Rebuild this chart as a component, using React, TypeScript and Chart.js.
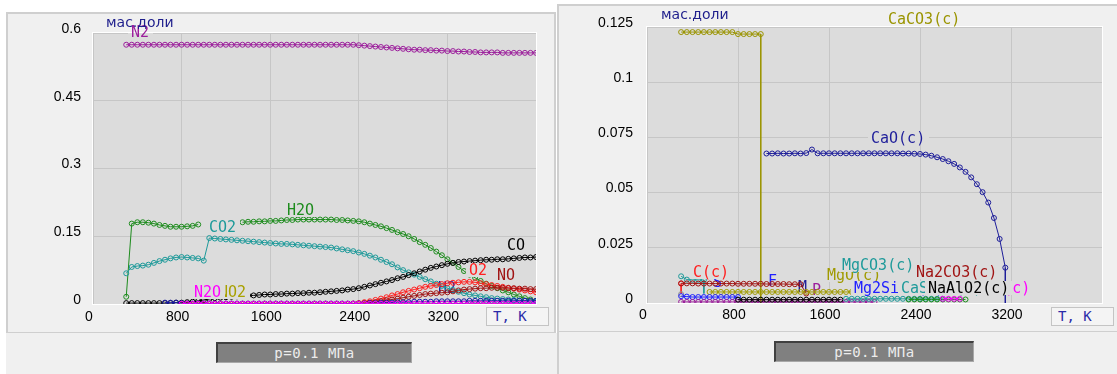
import React, { useEffect, useRef } from 'react';
import { Chart, registerables } from 'chart.js';

Chart.register(...registerables);

// ---------- shared temperature grid (K) ----------
const TEMPS = [300,350,400,450,500,550,600,650,700,750,800,850,900,950,1000,1050,1100,1150,1200,1250,1300,1350,1400,1450,1500,1550,1600,1650,1700,1750,1800,1850,1900,1950,2000,2050,2100,2150,2200,2250,2300,2350,2400,2450,2500,2550,2600,2650,2700,2750,2800,2850,2900,2950,3000,3050,3100,3150,3200,3250,3300,3350,3400,3450,3500,3550,3600,3650,3700,3750,3800,3850,3900,3950,4000];

// ---------- axes ----------
const X_TICKS = [0, 800, 1600, 2400, 3200, 4000];
const X_LABELS = ['0', '800', '1600', '2400', '3200', ''];
const LEFT_Y_TICKS = [0, 0.15, 0.3, 0.45, 0.6];
const LEFT_Y_LABELS = ['0', '0.15', '0.3', '0.45', '0.6'];
const RIGHT_Y_TICKS = [0, 0.025, 0.05, 0.075, 0.1, 0.125];
const RIGHT_Y_LABELS = ['0', '0.025', '0.05', '0.075', '0.1', '0.125'];

// ---------- left panel: gas phase, mass fractions ----------
const N2_START = 300;
const N2 = [0.574,0.574,0.574,0.574,0.574,0.574,0.574,0.574,0.574,0.574,0.574,0.574,0.574,0.574,0.574,0.574,0.574,0.574,0.574,0.574,0.574,0.574,0.574,0.574,0.574,0.574,0.574,0.574,0.574,0.574,0.574,0.574,0.574,0.574,0.574,0.574,0.574,0.574,0.574,0.574,0.574,0.574,
  0.573,0.572,0.571,0.570,0.569,0.568,0.567,0.566,0.565,0.564,0.563,0.563,0.562,0.562,0.561,0.561,0.560,0.560,0.559,0.559,0.558,0.558,0.557,0.557,0.557,0.557,0.556,0.556,0.556,0.556,0.556,0.556,0.556];
const H2O_START = 300;
const H2O = [0.016,0.178,0.181,0.181,0.180,0.178,0.175,0.173,0.171,0.171,0.171,0.172,0.173,0.176,null,null,null,null,null,null,null,0.181,0.182,0.182,0.183,0.183,0.184,0.184,0.185,0.186,0.186,0.187,0.187,0.187,0.187,0.187,0.187,0.187,0.186,0.186,0.185,0.184,0.183,0.181,0.178,0.175,0.172,0.168,0.164,0.159,0.155,0.150,0.144,0.137,0.131,0.124,0.116,0.108,0.099,0.091,0.082,0.073,0.065,0.058,0.051,0.045,0.040,0.035,0.030,0.026,0.021,0.017,0.013,0.010,0.007];
const CO2_START = 300;
const CO2 = [0.068,0.082,0.084,0.085,0.087,0.091,0.095,0.098,0.101,0.103,0.104,0.103,0.102,0.101,0.096,0.146,0.145,0.144,0.143,0.142,0.141,0.140,0.139,0.138,0.137,0.136,0.135,0.134,0.133,0.133,0.132,0.131,0.130,0.129,0.128,0.127,0.126,0.125,0.123,0.121,0.119,0.117,0.114,0.111,0.107,0.103,0.098,0.093,0.088,0.081,0.075,0.070,0.065,0.060,0.055,0.050,0.045,0.040,0.035,0.031,0.027,0.024,0.021,0.019,0.017,0.015,0.013,0.012,0.011,0.010,0.009,0.008,0.007,0.006,0.005];
const CO_START = 300;
const CO = [0.002,0.002,0.002,0.002,0.002,0.002,0.002,0.002,0.002,0.003,0.003,0.004,0.005,0.007,0.009,0.011,0.013,0.014,0.015,0.016,0.017,0.018,0.019,0.019,0.020,0.021,0.021,0.022,0.022,0.023,0.023,0.024,0.024,0.025,0.025,0.026,0.027,0.028,0.029,0.030,0.032,0.033,0.035,0.038,0.041,0.044,0.047,0.050,0.053,0.057,0.060,0.064,0.068,0.072,0.076,0.080,0.083,0.086,0.089,0.091,0.093,0.094,0.095,0.096,0.097,0.098,0.098,0.099,0.099,0.100,0.101,0.102,0.103,0.103,0.104];
const O2_START = 800;
const O2 = [0,0,0,0,0,0,0,0,0,0,0,0,0,0,0,0,0,0,0,0,0,0,0,0,0,0,0,0,0,0,0,
  0.001,0.002,0.004,0.006,0.009,0.012,0.015,0.019,0.022,0.026,0.029,0.032,0.035,0.038,0.040,0.042,0.044,0.046,0.047,0.048,0.049,0.049,0.048,0.046,0.044,0.042,0.040,0.038,0.036,0.034,0.032,0.030,0.028,0.026];
const NO_START = 850;
const NO = [0,0,0,0,0,0,0,0,0,0,0,0,0,0,0,0,0,0,0,0,0,0,0,0,0,0,0,0,0,0,0,
  0.001,0.002,0.003,0.004,0.006,0.008,0.010,0.012,0.014,0.016,0.018,0.020,0.022,0.023,0.024,0.025,0.026,0.028,0.030,0.032,0.033,0.034,0.035,0.035,0.036,0.036,0.036,0.035,0.035,0.034,0.034,0.033,0.033];
const H2_START = 650;
const H2 = [0.003,0.003,0.003,0.002,
  0.001,0.001,0.001,0.001,0.001,0.001,0.001,0.001,0.001,0.001,0.001,0.001,0.001,0.001,0.001,0.001,0.001,0.001,0.001,0.001,0.001,0.001,0.001,0.001,0.001,0.001,0.001,0.001,0.001,0.001,0.001,0.001,0.001,
  0.002,0.002,0.003,0.003,0.003,0.004,0.004,0.004,0.005,0.005,0.005,0.005,0.006,0.006,0.006,0.006,0.006,0.006,0.007,0.007,0.007,0.007,0.007,0.007,0.007,0.007,0.007,0.007,0.007,0.007,0.007];
const N2O_START = 800;
const N2O = [0.0005,0.0005,0.0005,0.0005,0.0005,0.0005,0.0005,0.0005,0.0005,0.0005,0.0005,0.0005,0.0005,0.0005,0.0005,0.0005,0.0005,0.0005,0.0005,0.0005,0.0005,0.0005,0.0005,0.0005,0.0005,0.0005,0.0005,0.0005,0.0005,0.0005,0.0005,0.0005,0.0005,0.0005,0.0005,0.0005,0.0005,0.0005,0.0005,0.0005,0.0005,0.0005,0.0005,0.0005,0.0005,0.0005,0.0005,0.0005,0.0005,0.0005,0.0005,0.0005,0.0005,0.0005,0.0005,0.0005,0.0005,0.0005,0.0005,0.0005,0.0005,0.0005,0.0005,0.0005,0.0005];
const NO2_START = 800;
const NO2 = [0.0003,0.0003,0.0003,0.0003,0.0003,0.0003,0.0003,0.0003,0.0003,0.0003,0.0003,0.0003,0.0003,0.0003,0.0003,0.0003,0.0003,0.0003,0.0003,0.0003,0.0003,0.0003,0.0003,0.0003,0.0003,0.0003,0.0003,0.0003,0.0003,0.0003,0.0003,0.0003,0.0003,0.0003,0.0003,0.0003,0.0003,0.0003,0.0003,0.0003,0.0003,0.0003,0.0003,0.0003,0.0003,0.0003,0.0003,0.0003,0.0003,0.0003,0.0003,0.0003,0.0003,0.0003,0.0003,0.0003,0.0003,0.0003,0.0003,0.0003,0.0003,0.0003,0.0003,0.0003,0.0003];

// ---------- right panel: condensed phase, mass fractions ----------
const CACO3_T = [300,350,400,450,500,550,600,650,700,750,800,850,900,950,1000,1000];
const CACO3 = [0.1227,0.1227,0.1227,0.1227,0.1227,0.1227,0.1227,0.1227,0.1227,0.1227,0.1218,0.1218,0.1218,0.1218,0.1218,0];
const CAO_T = [1050,1100,1150,1200,1250,1300,1350,1400,1450,1500,1550,1600,1650,1700,1750,1800,1850,1900,1950,2000,2050,2100,2150,2200,2250,2300,2350,2400,2450,2500,2550,2600,2650,2700,2750,2800,2850,2900,2950,3000,3050,3100,3150,3150];
const CAO = [0.0677,0.0677,0.0678,0.0677,0.0677,0.0678,0.0677,0.0679,0.0695,0.0678,0.0678,0.0678,0.0678,0.0678,0.0678,0.0678,0.0678,0.0678,0.0678,0.0678,0.0678,0.0678,0.0678,0.0678,0.0677,0.0677,0.0676,0.0675,0.0672,0.0667,0.0660,0.0652,0.0642,0.0630,0.0614,0.0594,0.0569,0.0538,0.0502,0.0455,0.0385,0.0290,0.0160,0];
const CC_T = [300, 300];
const CC = [0.0088, 0.0043];
const NA2CO3_START = 300;
const NA2CO3 = [0.0089,0.0089,0.0089,0.0088,0.0088,0.0088,0.0088,0.0088,0.0088,0.0088,0.0087,0.0087,0.0087,0.0087,0.0087,0.0086,0.0086,0.0086,0.0086,0.0085,0.0085,0.0085,0.0043];
const MGCO3_T = [300,350,400,450,500,500];
const MGCO3 = [0.0121,0.0106,0.0105,0.0105,0.0104,0.0043];
const MGO_START = 550;
const MGO = [0.0050,0.0050,0.0050,0.0050,0.0050,0.0050,0.0050,0.0050,0.0050,0.0050,0.0050,0.0050,0.0050,0.0050,0.0050,0.0050,0.0050,0.0050,0.0050,0.0050,0.0050,0.0050,0.0050,0.0050,0.0050,0.0050];
const MG2SIO4_START = 300;
const MG2SIO4 = [0.0031,0.0029,0.0027,0.0027,0.0027,0.0027,0.0027,0.0027,0.0027,0.0027,0.0027];
const NAALO2_START = 800;
const NAALO2 = [0.0015,0.0015,0.0015,0.0015,0.0015,0.0015,0.0015,0.0015,0.0015,0.0015,0.0015,0.0015,0.0015,0.0015,0.0015,0.0015,0.0015,0.0015,0.0015];
const CASIO3_START = 1750;
const CASIO3 = [0.0019,0.0019,0.0019,0.0019,0.0019,0.0019,0.0019,0.0019,0.0019,0.0019,0.0019,0.0019,0.0019,0.0019,0.0019,0.0019,0.0019,0.0019];
const PURPLE_START = 300;
const PURPLE = [0.0005,0.0005,0.0005,0.0005,0.0005,0.0005,0.0005,0.0005,0.0005,0.0005,0.0005,0.0005,0.0005,0.0005,0.0005,0.0005,0.0005,0.0005,0.0005,0.0005,0.0005,0.0005,0.0005,0.0005,0.0005,0.0005,0.0005,0.0005,0.0005,0.0005,0.0005,0.0005,0.0005,0.0005,0.0005];
const GREEN_START = 2300;
const GREEN = [0.0016,0.0016,0.0016,0.0016,0.0016,0.0016,0.0016,0.0016,0.0016,0.0016,0.0016];
const SIO2_START = 2600;
const SIO2 = [0.0019,0.0019,0.0019,0.0019];
const GREY_T = [300];
const GREY = [0.0040];

// ---------- styles ----------
const PANEL_BG = '#f0f0f0';
const PLOT_BG = '#dcdcdc';
const GRID = '#c6c6c6';
const PANEL_BORDER = '#cfcfcf';
const AXIS_NAVY = '#1e1e8c';
const TICK_FONT = { family: '"Liberation Sans", Arial, sans-serif', size: 14 };
const LABEL_FONT = '15px "DejaVu Sans Mono", monospace';
const LABEL_PAD = 3;

type Pt = { x: number; y: number | null };
const onGrid = (start: number, vals: (number | null)[]): Pt[] => {
  const i0 = TEMPS.indexOf(start);
  return vals.map((v, i) => ({ x: TEMPS[i0 + i], y: v }));
};
const zip = (ts: number[], vals: number[]): Pt[] => ts.map((t, i) => ({ x: t, y: vals[i] }));

type Series = { name: string; color: string; data: Pt[]; dropLast?: boolean };

// listed top-most first
const LEFT_SERIES: Series[] = [
  { name: 'N2O', color: '#ff00ff', data: onGrid(N2O_START, N2O) },
  { name: 'H2', color: '#1a1aa8', data: onGrid(H2_START, H2) },
  { name: 'NO', color: '#a01414', data: onGrid(NO_START, NO) },
  { name: 'O2', color: '#ff2020', data: onGrid(O2_START, O2) },
  { name: 'CO', color: '#000000', data: onGrid(CO_START, CO) },
  { name: 'CO2', color: '#1e9a9a', data: onGrid(CO2_START, CO2) },
  { name: 'H2O', color: '#1e8c1e', data: onGrid(H2O_START, H2O) },
  { name: 'N2', color: '#9c1e9c', data: onGrid(N2_START, N2) },
  { name: 'NO2', color: '#a8a000', data: onGrid(NO2_START, NO2) },
];

const RIGHT_SERIES: Series[] = [
  { name: 'SiO2(c)', color: '#ff00ff', data: onGrid(SIO2_START, SIO2) },
  { name: 'green', color: '#1e8c1e', data: onGrid(GREEN_START, GREEN) },
  { name: 'CaSiO3(c)', color: '#1e9a9a', data: onGrid(CASIO3_START, CASIO3) },
  { name: 'NaAlO2(c)', color: '#000000', data: onGrid(NAALO2_START, NAALO2) },
  { name: 'purple', color: '#9c1e9c', data: onGrid(PURPLE_START, PURPLE) },
  { name: 'Mg2SiO4(c)', color: '#2020ff', data: onGrid(MG2SIO4_START, MG2SIO4) },
  { name: 'grey', color: '#909090', data: zip(GREY_T, GREY) },
  { name: 'MgO(c)', color: '#a09a00', data: onGrid(MGO_START, MGO) },
  { name: 'Na2CO3(c)', color: '#a01414', data: onGrid(NA2CO3_START, NA2CO3) },
  { name: 'C(c)', color: '#ff2020', data: zip(CC_T, CC), dropLast: true },
  { name: 'MgCO3(c)', color: '#1e9a9a', data: zip(MGCO3_T, MGCO3), dropLast: true },
  { name: 'CaO(c)', color: '#1e1e9a', data: zip(CAO_T, CAO), dropLast: true },
  { name: 'CaCO3(c)', color: '#9a9400', data: zip(CACO3_T, CACO3), dropLast: true },
];

type Label = { text: string; t: number; v: number; color: string; under?: boolean };

// label anchors (centre) in data coordinates, drawn in order
const LEFT_LABELS: Label[] = [
  { text: 'H2', t: 3198, v: 0.035, color: '#1a1aa8', under: true },
  { text: 'N2', t: 426, v: 0.602, color: '#9c1e9c' },
  { text: 'H2O', t: 1873, v: 0.208, color: '#1e8c1e' },
  { text: 'CO2', t: 1171, v: 0.171, color: '#1e9a9a' },
  { text: 'CO', t: 3821, v: 0.1306, color: '#000000' },
  { text: 'NO', t: 3731, v: 0.064, color: '#a01414' },
  { text: 'O2', t: 3477, v: 0.0753, color: '#ff2020' },
  { text: 'NO2', t: 1257, v: 0.027, color: '#a8a000' },
  { text: 'N2O', t: 1036, v: 0.027, color: '#ff00ff' },
];

const RIGHT_LABELS: Label[] = [
  { text: 'S', t: 620, v: 0.0095, color: '#2020ff', under: true },
  { text: 'F', t: 1100, v: 0.0100, color: '#2020ff', under: true },
  { text: 'M', t: 1370, v: 0.0073, color: '#1e1e9a', under: true },
  { text: 'P', t: 1490, v: 0.0058, color: '#9c1e9c', under: true },
  { text: 'CaCO3(c)', t: 2433, v: 0.1284, color: '#9a9400' },
  { text: 'CaO(c)', t: 2209, v: 0.0749, color: '#1e1e9a' },
  { text: 'C(c)', t: 564, v: 0.014, color: '#ff2020' },
  { text: 'MgO(c)', t: 1819, v: 0.0125, color: '#a09a00' },
  { text: 'MgCO3(c)', t: 2028, v: 0.0171, color: '#1e9a9a' },
  { text: 'Na2CO3(c)', t: 2724, v: 0.014, color: '#a01414' },
  { text: 'Mg2SiO4(c)', t: 2216, v: 0.0067, color: '#2020ff' },
  { text: 'CaSiO3(c)', t: 2590, v: 0.0067, color: '#1e9a9a' },
  { text: 'SiO2(c)', t: 3092, v: 0.0067, color: '#ff00ff' },
  { text: 'NaAlO2(c)', t: 2824, v: 0.0067, color: '#000000' },
];

function drawLabels(chart: any, labels: Label[], under: boolean) {
  const { ctx, scales, chartArea: a } = chart;
  ctx.save();
  ctx.font = LABEL_FONT;
  ctx.textAlign = 'left';
  ctx.textBaseline = 'middle';
  for (const l of labels) {
    if (!!l.under !== under) continue;
    const px = scales.x.getPixelForValue(l.t);
    const py = scales.y.getPixelForValue(l.v);
    const w = ctx.measureText(l.text).width;
    const x0 = Math.round(px - w / 2);
    if (!under) {
      ctx.save();
      ctx.beginPath();
      ctx.rect(a.left, a.top, a.right - a.left, a.bottom - a.top);
      ctx.clip();
      ctx.fillStyle = PLOT_BG;
      ctx.fillRect(x0 - LABEL_PAD, Math.round(py - 7), Math.ceil(w) + 2 * LABEL_PAD, 14);
      ctx.restore();
    }
    ctx.fillStyle = l.color;
    ctx.fillText(l.text, x0, py + 1);
  }
  ctx.restore();
}

function makeDecor(labels: Label[]) {
  return {
    id: 'decor',
    beforeDraw(chart: any) {
      const { ctx, chartArea: a } = chart;
      ctx.save();
      ctx.fillStyle = PLOT_BG;
      ctx.fillRect(a.left, a.top, a.right - a.left, a.bottom - a.top);
      ctx.restore();
    },
    beforeDatasetsDraw(chart: any) {
      const { ctx, chartArea: a } = chart;
      ctx.save();
      ctx.strokeStyle = '#ffffff';
      ctx.lineWidth = 1;
      ctx.strokeRect(Math.round(a.left) - 0.5, Math.round(a.top) - 0.5, Math.round(a.right - a.left) + 1, Math.round(a.bottom - a.top) + 1);
      ctx.restore();
      drawLabels(chart, labels, true);
    },
    afterDatasetsDraw(chart: any) {
      drawLabels(chart, labels, false);
    },
  };
}

type PanelSpec = {
  series: Series[];
  labels: Label[];
  yMax: number;
  yTicks: number[];
  yLabels: string[];
  width: number;
  height: number;
  area: { left: number; top: number; right: number; bottom: number };
  yPad: number;
  xPad: number;
};

function buildConfig(p: PanelSpec): any {
  return {
    type: 'line',
    data: {
      datasets: p.series.map((s, idx) => ({
        label: s.name,
        data: s.data,
        order: idx,
        borderColor: s.color,
        borderWidth: 1,
        pointBorderColor: s.color,
        pointBackgroundColor: 'rgba(0,0,0,0)',
        pointBorderWidth: 1,
        pointRadius: s.data.map((_, i) => (s.dropLast && i === s.data.length - 1 ? 0 : 2.5)),
        tension: 0,
        spanGaps: false,
      })),
    },
    options: {
      responsive: false,
      animation: false,
      devicePixelRatio: 1,
      parsing: false,
      layout: { padding: { left: 0, top: p.area.top, right: p.width - p.area.right, bottom: 0 } },
      plugins: { legend: { display: false }, tooltip: { enabled: false }, title: { display: false } },
      events: [],
      scales: {
        x: {
          type: 'linear',
          min: 0,
          max: 4000,
          afterBuildTicks: (s: any) => { s.ticks = X_TICKS.map((v) => ({ value: v })); },
          afterFit: (s: any) => { s.height = p.height - p.area.bottom; },
          ticks: {
            callback: (v: number) => X_LABELS[X_TICKS.indexOf(v)] ?? '',
            font: TICK_FONT,
            color: '#000',
            padding: p.xPad,
            labelOffset: -4,
            maxRotation: 0,
            autoSkip: false,
          },
          grid: { color: GRID, drawTicks: false, lineWidth: 1 },
          border: { display: false },
        },
        y: {
          type: 'linear',
          min: 0,
          max: p.yMax,
          afterBuildTicks: (s: any) => { s.ticks = p.yTicks.map((v) => ({ value: v })); },
          afterFit: (s: any) => { s.width = p.area.left; },
          ticks: {
            callback: (v: number) => {
              const i = p.yTicks.findIndex((t) => Math.abs(t - v) < 1e-9);
              return i >= 0 ? p.yLabels[i] : '';
            },
            font: TICK_FONT,
            color: '#000',
            padding: p.yPad,
            labelOffset: -4,
            autoSkip: false,
          },
          grid: { color: GRID, drawTicks: false, lineWidth: 1 },
          border: { display: false },
        },
      },
    },
    plugins: [makeDecor(p.labels)],
  };
}

function ChartCanvas({ spec, left, top }: { spec: PanelSpec; left: number; top: number }) {
  const ref = useRef<HTMLCanvasElement>(null);
  useEffect(() => {
    const chart = new Chart(ref.current as HTMLCanvasElement, buildConfig(spec));
    return () => chart.destroy();
  }, []);
  return (
    <canvas
      ref={ref}
      width={spec.width}
      height={spec.height}
      style={{ position: 'absolute', left, top, width: spec.width, height: spec.height }}
    />
  );
}

const LEFT_SPEC: PanelSpec = {
  series: LEFT_SERIES,
  labels: LEFT_LABELS,
  yMax: 0.6,
  yTicks: LEFT_Y_TICKS,
  yLabels: LEFT_Y_LABELS,
  width: 556,
  height: 334,
  area: { left: 93, top: 33, right: 536, bottom: 304 },
  yPad: 12,
  xPad: 5,
};

const RIGHT_SPEC: PanelSpec = {
  series: RIGHT_SERIES,
  labels: RIGHT_LABELS,
  yMax: 0.125,
  yTicks: RIGHT_Y_TICKS,
  yLabels: RIGHT_Y_LABELS,
  width: 560,
  height: 334,
  area: { left: 90, top: 27, right: 545, bottom: 303 },
  yPad: 14,
  xPad: 4,
};

const abs = (l: number, t: number, w: number, h: number, extra: React.CSSProperties = {}): React.CSSProperties => ({
  position: 'absolute', left: l, top: t, width: w, height: h, boxSizing: 'border-box', ...extra,
});

function Button({ left, top, width }: { left: number; top: number; width: number }) {
  return (
    <div style={abs(left, top, width, 21, {
      background: '#808080',
      borderTop: '2px solid #404040',
      borderLeft: '2px solid #404040',
      borderRight: '1px solid #a8a8a8',
      borderBottom: '1px solid #a8a8a8',
      color: '#ececec',
      font: '14px "DejaVu Sans Mono", monospace',
      letterSpacing: '0.5px',
      textAlign: 'center',
      lineHeight: '18px',
    })}>p=0.1 МПа</div>
  );
}

function AxisBox({ left, top }: { left: number; top: number }) {
  return (
    <div style={abs(left, top, 63, 19, {
      background: '#f4f4f4',
      border: '1px solid #c4c4c4',
      color: '#2a2aa8',
      font: '14px "DejaVu Sans Mono", monospace',
      lineHeight: '17px',
      paddingLeft: 6,
    })}>T, K</div>
  );
}

function Unit({ left, top }: { left: number; top: number }) {
  return (
    <div style={abs(left, top, 80, 16, {
      color: AXIS_NAVY,
      font: '14px "DejaVu Sans", sans-serif',
      lineHeight: '16px',
      whiteSpace: 'nowrap',
    })}>мас.доли</div>
  );
}

export default function App() {
  return (
    <div style={abs(0, 0, 1117, 374, { background: '#ffffff', overflow: 'hidden' })}>
      {/* left panel */}
      <div style={abs(6, 12, 550, 322, { background: PANEL_BG, border: `2px solid ${PANEL_BORDER}` })} />
      <div style={abs(6, 333, 551, 41, { background: PANEL_BG })} />
      {/* right panel */}
      <div style={abs(557, 4, 564, 329, { background: PANEL_BG, border: `2px solid ${PANEL_BORDER}` })} />
      <div style={abs(557, 332, 560, 42, { background: PANEL_BG, borderLeft: `2px solid ${PANEL_BORDER}` })} />

      <ChartCanvas spec={LEFT_SPEC} left={0} top={0} />
      <ChartCanvas spec={RIGHT_SPEC} left={557} top={0} />

      <Unit left={106} top={14} />
      <Unit left={661} top={6} />
      <AxisBox left={486} top={307} />
      <AxisBox left={1051} top={307} />
      <Button left={216} top={342} width={196} />
      <Button left={774} top={341} width={200} />
    </div>
  );
}
